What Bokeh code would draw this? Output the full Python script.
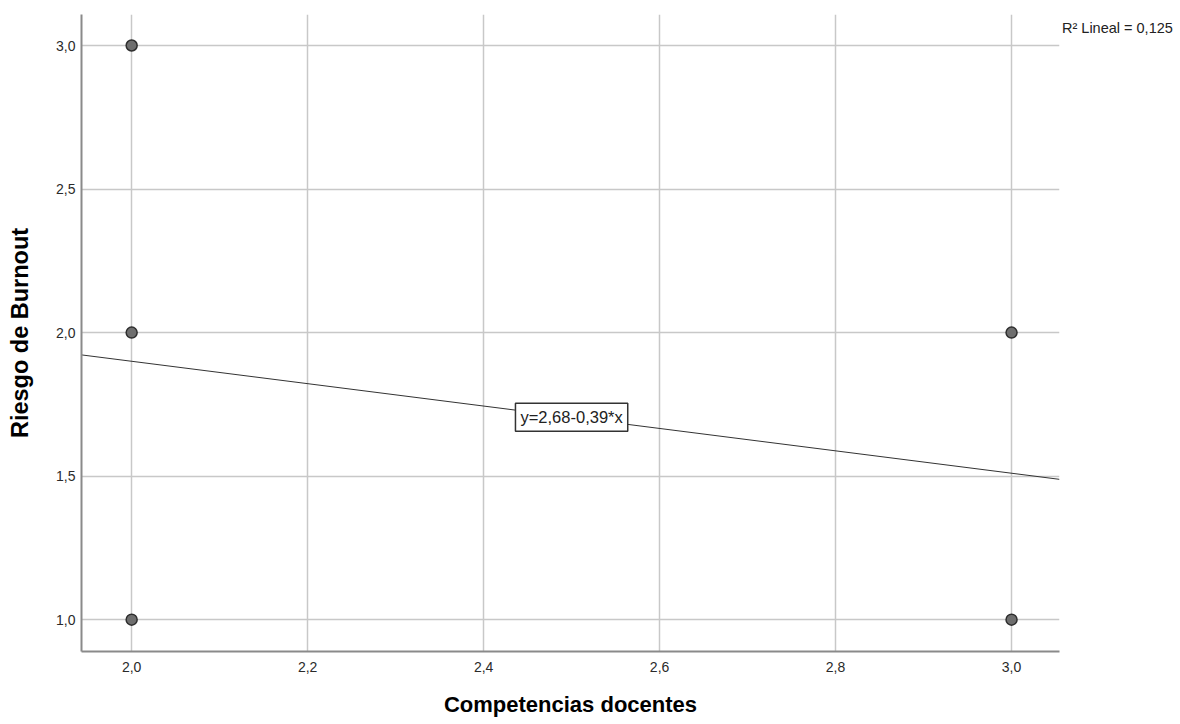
from bokeh.plotting import figure
from bokeh.models import Range1d, FixedTicker, Label, Legend, LegendItem
from bokeh.embed import file_html
from bokeh.resources import INLINE

# data
x_vals = [2.0, 2.0, 2.0, 3.0, 3.0]
y_vals = [3.0, 2.0, 1.0, 2.0, 1.0]
intercept = 2.68
slope = -0.39
x_ticks = [2.0, 2.2, 2.4, 2.6, 2.8, 3.0]
x_tick_labels = ["2,0", "2,2", "2,4", "2,6", "2,8", "3,0"]
y_ticks = [1.0, 1.5, 2.0, 2.5, 3.0]
y_tick_labels = ["1,0", "1,5", "2,0", "2,5", "3,0"]
fit_label = "y=2,68-0,39*x"
r2_label = "R² Lineal = 0,125"
x_title = "Competencias docentes"
y_title = "Riesgo de Burnout"

FONT = "Liberation Sans"
x0, x1 = 1.943, 3.0545
y0, y1 = 0.889, 3.108

p = figure(frame_width=978, frame_height=637, output_backend="svg", toolbar_location=None,
           x_range=Range1d(x0, x1), y_range=Range1d(y0, y1),
           min_border_left=81, min_border_right=113, min_border_top=14, min_border_bottom=69)
p.outline_line_color = None
p.background_fill_color = "white"
p.border_fill_color = "white"

for ax in (p.xaxis[0], p.yaxis[0]):
    ax.axis_line_color = "#8a8a8a"
    ax.axis_line_width = 2
    ax.major_tick_line_color = None
    ax.minor_tick_line_color = None
    ax.major_tick_out = 0
    ax.major_tick_in = 0
    ax.major_label_text_font = FONT
    ax.major_label_text_font_size = "14px"
    ax.major_label_text_color = "#2a2a2a"
    ax.axis_label_text_font = FONT
    ax.axis_label_text_font_style = "bold"
    ax.axis_label_text_color = "#000000"
p.xaxis.axis_label_text_font_size = "22px"
p.yaxis.axis_label_text_font_size = "23.5px"

p.xaxis.ticker = FixedTicker(ticks=x_ticks)
p.yaxis.ticker = FixedTicker(ticks=y_ticks)
p.xaxis.major_label_overrides = {t: l for t, l in zip(x_ticks, x_tick_labels)}
p.yaxis.major_label_overrides = {t: l for t, l in zip(y_ticks, y_tick_labels)}
p.xaxis.major_label_standoff = 10
p.yaxis.major_label_standoff = 6
p.xaxis.axis_label = x_title
p.yaxis.axis_label = y_title
p.xaxis.axis_label_standoff = 17
p.yaxis.axis_label_standoff = 20

p.xgrid.grid_line_color = "#c8c8c8"
p.ygrid.grid_line_color = "#c8c8c8"
p.xgrid.grid_line_width = 1.5
p.ygrid.grid_line_width = 1.5

# regression line across the full x range
lx = [x0, x1]
ly = [intercept + slope * v for v in lx]
p.line(lx, ly, line_color="#333333", line_width=1)

p.scatter(x_vals, y_vals, size=11, fill_color="#6e6e6e", line_color="#2e2e2e", line_width=1.5)

xm = 2.5
p.add_layout(Label(x=xm, y=intercept + slope * xm, text=fit_label, text_align="center",
                   text_baseline="middle", text_font=FONT, text_font_size="16.5px",
                   text_color="#222222", background_fill_color="white",
                   border_line_color="#333333", border_line_width=1.5, padding=5))

# R² annotation in the right-hand panel (legend without a visible glyph)
ghost = p.scatter([], [], size=0, fill_alpha=0, line_alpha=0)
leg = Legend(items=[LegendItem(label=r2_label, renderers=[ghost])],
             location="top_left", orientation="vertical",
             glyph_width=0, glyph_height=28, label_height=28, label_standoff=3,
             padding=0, margin=0, spacing=0,
             border_line_color=None, background_fill_alpha=0,
             label_text_font=FONT, label_text_font_size="14.5px", label_text_color="#222222")
p.add_layout(leg, "right")

open("out.html", "w").write(file_html(p, INLINE))
